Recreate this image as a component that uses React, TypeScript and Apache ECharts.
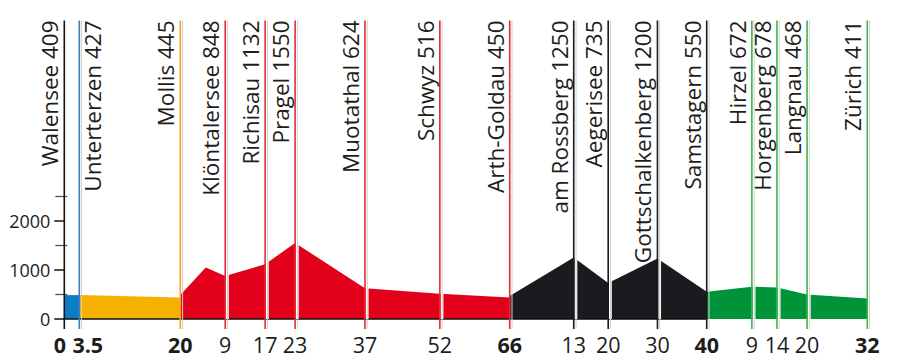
import React, { useEffect, useRef } from "react";
import * as echarts from "echarts";

// Stops along the route (name, altitude label, km within segment, segment index)
const places = [
  "Walensee", "Unterterzen", "Mollis", "Klöntalersee", "Richisau", "Pragel",
  "Muotathal", "Schwyz", "Arth-Goldau", "am Rossberg", "Aegerisee",
  "Gottschalkenberg", "Samstagern", "Hirzel", "Horgenberg", "Langnau", "Zürich",
];
const altitudes = [409, 427, 445, 848, 1132, 1550, 624, 516, 450, 1250, 735, 1200, 550, 672, 678, 468, 411];
const stopKm = [0, 3.5, 20, 9, 17, 23, 37, 52, 66, 13, 20, 30, 40, 9, 14, 20, 32];
const stopSegment = [0, 0, 1, 2, 2, 2, 2, 2, 2, 3, 3, 3, 3, 4, 4, 4, 4];
const segmentEndStops = [0, 1, 2, 8, 12, 16];

// Elevation profile per segment
const blueKm = [0, 3.5];
const blueElev = [488, 488];
const orangeKm = [3.5, 20];
const orangeElev = [490, 441];
const redKm = [0, 5.1, 9, 17, 23, 37, 52, 66];
const redElev = [490, 1052, 880, 1119, 1553, 630, 515, 441];
const blackKm = [0, 13, 20, 30, 40];
const blackElev = [468, 1255, 735, 1235, 556];
const greenKm = [0, 9, 14, 20, 32];
const greenElev = [556, 660, 645, 500, 421];

const segKm = [blueKm, orangeKm, redKm, blackKm, greenKm];
const segElev = [blueElev, orangeElev, redElev, blackElev, greenElev];
const segMin = [0, 3.5, 0, 0, 0];
const segMax = [3.5, 20, 66, 40, 32];

// Tick labels
const xTickLabels = [[0, 3.5], [20], [9, 17, 23, 37, 52, 66], [13, 20, 30, 40], [9, 14, 20, 32]];
const yTickLabels = [0, 1000, 2000];
const yMinorTicks = [500, 1500, 2500];
const yMax = 6100;

// Styling / layout
const segColors = ["#0a7dc5", "#f6b000", "#e2001a", "#1c1a1e", "#00943a"];
const lineColors = ["#3a80b9", "#f3a521", "#e62a34", "#1a1a1a", "#3db54a"];
const gridLeft = [64.3, 79.3, 180.3, 509.7, 706.7];
const gridWidth = [15, 101, 329.4, 197, 160.6];
const FONT = "'Open Sans', 'Noto Sans', sans-serif";
const TEXT = "#1d1d1b";

export default function App() {
  const ref = useRef<HTMLDivElement>(null);

  useEffect(() => {
    if (!ref.current) return;
    const chart = echarts.init(ref.current, undefined, { renderer: "svg" });

    const grids = gridLeft.map((l, i) => ({
      left: l,
      width: gridWidth[i],
      top: 20.4,
      bottom: 45,
      outerBoundsMode: "none",
      containLabel: false,
    }));

    const xAxes = segKm.map((_, i) => ({
      type: "value",
      gridIndex: i,
      min: segMin[i],
      max: segMax[i],
      z: 3,
      axisLine: { show: i < 4, onZero: false, lineStyle: { color: "#111", width: 1.5 } },
      axisTick: { show: false },
      splitLine: { show: false },
      axisLabel: {
        show: true,
        customValues: xTickLabels[i],
        margin: 14,
        fontFamily: FONT,
        fontSize: 21.5,
        color: TEXT,
        formatter: (v: number) => {
          if (i === 0) return v === 0 ? "{z|0}" : "{t|3.5}";
          return v === segMax[i] ? `{b|${v}}` : `{n|${v}}`;
        },
        rich: {
          z: { fontFamily: FONT, fontSize: 21.5, fontWeight: "bold", color: TEXT, padding: [0, 9, 0, 0] },
          t: { fontFamily: FONT, fontSize: 21.5, fontWeight: "bold", color: TEXT, padding: [0, 0, 0, 17] },
          b: { fontFamily: FONT, fontSize: 21.5, fontWeight: "bold", color: TEXT },
          n: { fontFamily: FONT, fontSize: 21.5, color: TEXT },
        },
      },
    }));

    const yAxes: any[] = segKm.map((_, i) => ({
      type: "value",
      gridIndex: i,
      min: 0,
      max: yMax,
      axisLine: { show: false },
      splitLine: { show: false },
      axisTick: i === 0 ? { show: true, customValues: yTickLabels, length: 10, lineStyle: { color: "#111", width: 1.5 } } : { show: false },
      axisLabel: i === 0
        ? {
            show: true,
            customValues: yTickLabels,
            margin: 14,
            fontFamily: FONT,
            fontSize: 18,
            color: TEXT,
            formatter: (v: number) => String(v),
          }
        : { show: false },
    }));
    yAxes.push({
      type: "value",
      gridIndex: 0,
      min: 0,
      max: yMax,
      position: "left",
      offset: -3,
      axisLine: { show: false },
      splitLine: { show: false },
      axisTick: { show: true, customValues: yMinorTicks, length: 12, lineStyle: { color: "#555", width: 1.3 } },
      axisLabel: { show: false },
    });

    const areaSeries = segKm.map((kms, i) => ({
      type: "line",
      xAxisIndex: i,
      yAxisIndex: i,
      data: kms.map((k, j) => [k, segElev[i][j]]),
      symbol: "none",
      silent: true,
      lineStyle: { width: 0 },
      areaStyle: { color: segColors[i], opacity: 1 },
      z: 2,
    }));

    const stopSeries = segKm.map((_, g) => ({
      type: "custom",
      xAxisIndex: g,
      yAxisIndex: g,
      clip: false,
      silent: true,
      z: 5,
      data: stopKm.map((k, idx) => [k, idx]).filter((d) => stopSegment[d[1]] === g),
      renderItem: (params: any, api: any) => {
        const idx = api.value(1);
        const km = api.value(0);
        const base = api.coord([km, 0]);
        const x = base[0];
        const yBase = base[1];
        const yTop = api.coord([km, yMax])[1];
        const yEnd = yBase + 10;
        const isEnd = segmentEndStops.indexOf(idx) >= 0;
        const color = idx === 0 ? "#111" : lineColors[stopSegment[idx]];
        const right = idx === 1;
        const children: any[] = [];
        if (!isEnd) {
          children.push({
            type: "rect",
            shape: { x: x + 0.8, y: yTop, width: 2.8, height: yBase - yTop },
            style: { fill: "#ffffff" },
          });
        }
        if (idx !== 0) {
          children.push({
            type: "line",
            shape: { x1: x + 2.3, y1: yTop, x2: x + 2.3, y2: yEnd },
            style: { stroke: "#d0d0d0", lineWidth: 1 },
          });
        }
        children.push({
          type: "line",
          shape: { x1: x, y1: yTop, x2: x, y2: yEnd },
          style: { stroke: color, lineWidth: 1.6 },
        });
        children.push({
          type: "text",
          x: right ? x + 2 : x - 3,
          y: yTop,
          rotation: Math.PI / 2,
          style: {
            text: `${places[idx]} ${altitudes[idx]}`,
            fontFamily: FONT,
            fontSize: 22.5,
            fill: TEXT,
            align: "right",
            verticalAlign: right ? "top" : "bottom",
          },
        });
        return { type: "group", children };
      },
    }));

    chart.setOption({
      animation: false,
      backgroundColor: "#ffffff",
      grid: grids,
      xAxis: xAxes,
      yAxis: yAxes,
      series: [...areaSeries, ...stopSeries],
    } as any);

    return () => chart.dispose();
  }, []);

  return (
    <div
      ref={ref}
      style={{ position: "fixed", left: 0, top: 0, width: 900, height: 364 }}
    />
  );
}
